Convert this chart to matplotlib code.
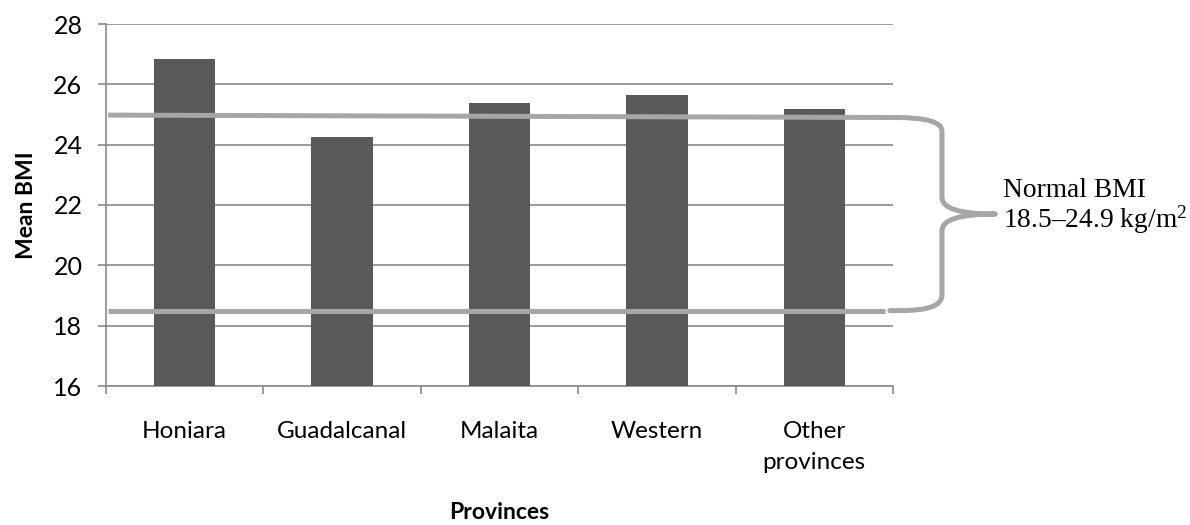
import matplotlib
matplotlib.use("Agg")
import matplotlib.pyplot as plt
from matplotlib.path import Path
from matplotlib.patches import PathPatch
import numpy as np

# Mean BMI by province
provinces = ["Honiara", "Guadalcanal", "Malaita", "Western", "Other\nprovinces"]
mean_bmi = [26.83, 24.25, 25.37, 25.64, 25.17]

# Normal BMI range (kg/m2)
normal_low = 18.5
normal_high = 24.9
yticks = [16, 18, 20, 22, 24, 26, 28]

bar_color = "#595959"
grid_color = "#8a8a8a"
band_color = "#a6a6a6"
sans = "Lato"
serif = "Liberation Serif"

plt.rcParams["mathtext.fontset"] = "custom"
plt.rcParams["mathtext.rm"] = serif
plt.rcParams["mathtext.it"] = serif + ":italic"

fig = plt.figure(figsize=(11.9, 5.25), dpi=100)
ax = fig.add_axes([106 / 1190, 1 - 386 / 525, (893 - 106) / 1190, (386 - 24) / 525])

x = np.arange(len(provinces))
ax.bar(x, mean_bmi, width=0.39, color=bar_color, zorder=3)

ax.set_xlim(-0.5, len(provinces) - 0.5)
ax.set_ylim(yticks[0], yticks[-1])
ax.set_yticks(yticks)
ax.yaxis.grid(True, color=grid_color, linewidth=1.2, zorder=0)
ax.set_axisbelow(True)

# category labels centred, tick marks on the category boundaries
ax.set_xticks(x)
ax.set_xticklabels(provinces, fontfamily=sans, fontsize=17.5, linespacing=1.62)
ax.set_xticks(np.arange(len(provinces) + 1) - 0.5, minor=True)
ax.tick_params(axis="x", which="major", length=0, pad=25)
ax.tick_params(axis="x", which="minor", length=6, width=1.2, color=grid_color, direction="out")
ax.tick_params(axis="y", length=6, width=1.2, color=grid_color, pad=11, labelsize=18)
for lab in ax.get_yticklabels():
    lab.set_fontfamily(sans)

for side in ("top", "right"):
    ax.spines[side].set_visible(False)
for side in ("left", "bottom"):
    ax.spines[side].set_color(grid_color)
    ax.spines[side].set_linewidth(1.2)

ax.set_ylabel("Mean BMI", fontfamily=sans, fontsize=16.5, fontweight="bold", labelpad=12)
ax.set_xlabel("Provinces", fontfamily=sans, fontsize=16.5, fontweight="bold", labelpad=21)

# normal range boundary lines
ax.plot([-0.487, 4.53], [normal_high + 0.08, normal_high], color=band_color,
        lw=3.6, solid_capstyle="butt", zorder=4, clip_on=False)
ax.plot([-0.487, 4.45], [normal_low, normal_low], color=band_color,
        lw=3.6, solid_capstyle="butt", zorder=4, clip_on=False)

# curly brace spanning the normal range
xv, xtip = 4.811, 5.15
mid = (normal_low + normal_high) / 2
verts = [
    (4.52, normal_high), (xv, normal_high), (xv, normal_high - 0.45),
    (xv, mid + 0.55),
    (xv, mid), (xtip, mid),
    (xv, mid), (xv, mid - 0.55),
    (xv, normal_low + 0.5),
    (xv, normal_low), (4.55, normal_low),
    (4.48, normal_low),
]
codes = [Path.MOVETO, Path.CURVE3, Path.CURVE3,
         Path.LINETO,
         Path.CURVE3, Path.CURVE3,
         Path.CURVE3, Path.CURVE3,
         Path.LINETO,
         Path.CURVE3, Path.CURVE3,
         Path.LINETO]
brace = PathPatch(Path(verts, codes), facecolor="none", edgecolor=band_color,
                  lw=3.6, capstyle="round", joinstyle="round", clip_on=False, zorder=4)
ax.add_patch(brace)

fig.text(1003 / 1190, 1 - 197 / 525, "Normal BMI", fontfamily=serif, fontsize=19.8,
         ha="left", va="baseline")
fig.text(1003 / 1190, 1 - 228 / 525, r"18.5–24.9 kg/m$^{2}$", fontfamily=serif, fontsize=19.8,
         ha="left", va="baseline")

fig.savefig("out.png", dpi=100)
